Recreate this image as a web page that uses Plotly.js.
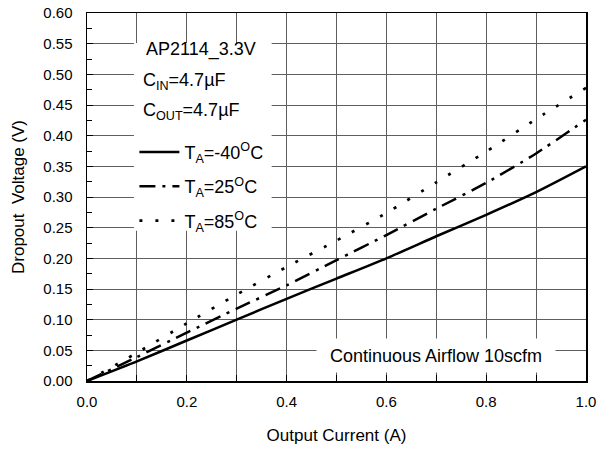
<!DOCTYPE html>
<html>
<head>
<meta charset="utf-8">
<script src="https://cdn.plot.ly/plotly-3.0.1.min.js"></script>
<style>html,body{margin:0;padding:0;background:#fff;}#chart{width:600px;height:452px;}</style>
</head>
<body>
<div id="chart"></div>
<script>
const current = [0, 0.1, 0.2, 0.3, 0.4, 0.5, 0.6, 0.7, 0.8, 0.9, 1.0];
const vMinus40 = [0, 0.032, 0.066, 0.100, 0.134, 0.167, 0.200, 0.236, 0.271, 0.308, 0.350];
const v25 = [0, 0.039, 0.079, 0.118, 0.156, 0.197, 0.238, 0.281, 0.323, 0.371, 0.426];
const v85 = [0, 0.046, 0.094, 0.141, 0.186, 0.229, 0.274, 0.324, 0.374, 0.427, 0.478];
const seriesNames = ['T<sub>A</sub>=-40<sup>O</sup>C', 'T<sub>A</sub>=25<sup>O</sup>C', 'T<sub>A</sub>=85<sup>O</sup>C'];
const infoLines = ['AP2114_3.3V', 'C<sub>IN</sub>=4.7\u00b5F', 'C<sub>OUT</sub>=4.7\u00b5F'];
const airflowNote = 'Continuous Airflow 10scfm';
const xTitle = 'Output Current (A)';
const yTitle = 'Dropout\u00a0 Voltage (V)';

const FONT = 'Liberation Sans, Arial, sans-serif';
const traces = [
  {x: current, y: vMinus40, name: seriesNames[0], legendgroup: 'a', line: {color: '#000', width: 2.5, dash: 'solid'}},
  {x: current, y: v25, name: seriesNames[1], legendgroup: 'b', line: {color: '#000', width: 2.5, dash: '16px,7px,3px,7px'}},
  {x: current, y: v85, name: seriesNames[2], legendgroup: 'c', line: {color: '#000', width: 2.7, dash: '3px,13px'}}
].map(t => Object.assign({type: 'scatter', mode: 'lines'}, t));
traces.forEach(t => { t.line.shape = 'spline'; t.line.smoothing = 0.6; });

const gridC = '#5e5e5e';
const layout = {
  width: 600, height: 452,
  margin: {l: 87, r: 14, t: 13, b: 71},
  paper_bgcolor: '#fff', plot_bgcolor: '#fff',
  font: {family: FONT, color: '#000', size: 15},
  showlegend: true,
  legend: {
    x: 0.095, y: 0.672, xanchor: 'left', yanchor: 'top',
    bgcolor: 'rgba(0,0,0,0)', borderwidth: 0,
    font: {family: FONT, size: 18, color: '#000'},
    tracegroupgap: 8, itemwidth: 40
  },
  xaxis: {
    range: [0, 1], dtick: 0.2, tick0: 0, tickformat: '.1f',
    ticks: 'inside', ticklen: 6, tickcolor: '#000',
    showgrid: true, gridcolor: gridC, gridwidth: 1,
    minor: {dtick: 0.1, showgrid: true, gridcolor: gridC, gridwidth: 1, ticks: 'inside', ticklen: 6, tickcolor: '#000'},
    zeroline: false, showline: true, linecolor: '#000', linewidth: 1.5, mirror: true,
    tickfont: {size: 15, family: FONT}, ticklabelstandoff: 6,
    title: {text: xTitle, font: {size: 17, family: FONT}, standoff: 20}
  },
  yaxis: {
    range: [0, 0.6], dtick: 0.05, tick0: 0, tickformat: '.2f',
    ticks: 'inside', ticklen: 6, tickcolor: '#000',
    showgrid: true, gridcolor: gridC, gridwidth: 1,
    minor: {dtick: 0.025, showgrid: false, ticks: 'inside', ticklen: 5, tickcolor: '#000'},
    zeroline: false, showline: true, linecolor: '#000', linewidth: 1.5, mirror: true,
    tickfont: {size: 15, family: FONT}, ticklabelstandoff: 10,
    title: {text: yTitle, font: {size: 17, family: FONT}, standoff: 14}
  },
  shapes: [
    {type: 'rect', xref: 'x', yref: 'y', x0: 0.094, x1: 0.37, y0: 0.245, y1: 0.551,
     fillcolor: '#fff', line: {width: 0}, layer: 'between'}
  ],
  annotations: [
    {xref: 'x', yref: 'y', x: 0.115, y: 0.540, text: infoLines[0], showarrow: false, xanchor: 'left', yanchor: 'middle', font: {size: 18, family: FONT}},
    {xref: 'x', yref: 'y', x: 0.108, y: 0.489, text: infoLines[1], showarrow: false, xanchor: 'left', yanchor: 'middle', font: {size: 18, family: FONT}},
    {xref: 'x', yref: 'y', x: 0.108, y: 0.440, text: infoLines[2], showarrow: false, xanchor: 'left', yanchor: 'middle', font: {size: 18, family: FONT}},
    {xref: 'x', yref: 'y', x: 0.70, y: 0.041, text: airflowNote, showarrow: false, xanchor: 'center', yanchor: 'middle',
     bgcolor: '#fff', borderpad: 0, width: 238, height: 33, font: {size: 18, family: FONT}}
  ]
};
Plotly.newPlot('chart', traces, layout, {displayModeBar: false, staticPlot: true});
</script>
</body>
</html>
